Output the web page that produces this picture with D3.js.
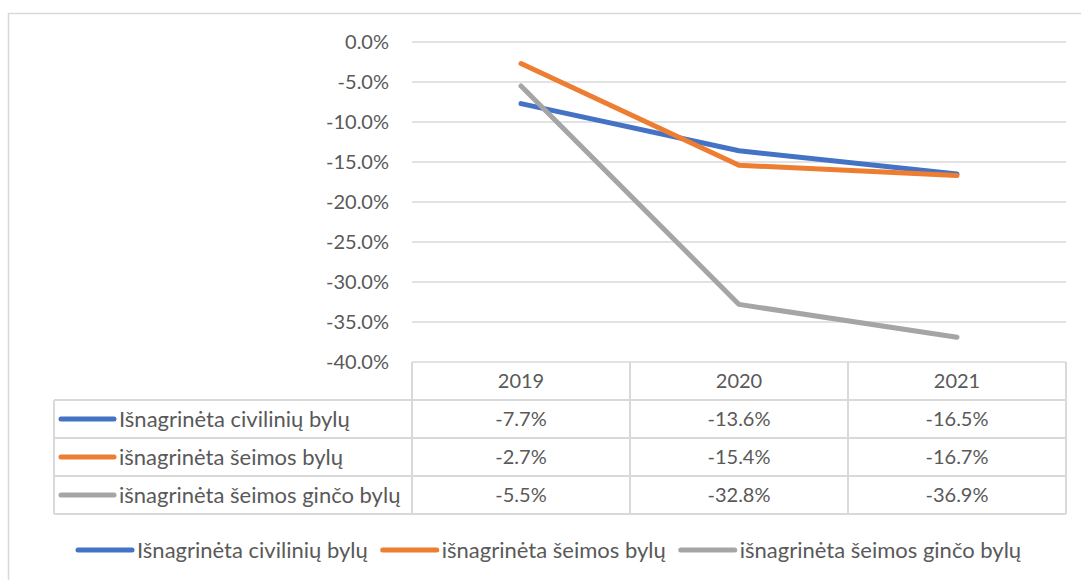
<!DOCTYPE html>
<html>
<head>
<meta charset="utf-8">
<script src="https://cdn.jsdelivr.net/npm/d3@7"></script>
<style>
  body { margin: 0; background: #fff; }
  svg { display: block; font-family: Lato, "Liberation Sans", sans-serif; }
</style>
</head>
<body>
<div class="graph"></div>
<script>
// Data
var years = ["2019", "2020", "2021"];
var seriesNames = ["Išnagrinėta civilinių bylų", "išnagrinėta šeimos bylų", "išnagrinėta šeimos ginčo bylų"];
var civil = [-7.7, -13.6, -16.5];
var family = [-2.7, -15.4, -16.7];
var familyDispute = [-5.5, -32.8, -36.9];
var yTicks = [0, -5, -10, -15, -20, -25, -30, -35, -40];

// Configuration
var colours = ["#4472C4", "#ED7D31", "#A5A5A5"];
var textColour = "#595959";
var gridColour = "#D9D9D9";
var width = 1081, height = 580;
var numSize = 20, labelSize = 22;

var pct = function(d) { return d3.format(".1f")(d).replace("\u2212", "-") + "%"; };

var series = [civil, family, familyDispute].map(function(v, i) {
    return {name: seriesNames[i], values: v, colour: colours[i]};
});

var plotLeft = 412, plotRight = 1066, plotTop = 42, plotBottom = 362;
var tableLeft = 54, rowH = 38;

var x = d3.scaleBand().domain(years).range([plotLeft, plotRight]);
var y = d3.scaleLinear().domain([-40, 0]).range([plotBottom, plotTop]);

var svg = d3.select(".graph").append("svg")
    .attr("width", width)
    .attr("height", height);

// outer chart border
svg.append("rect")
    .attr("x", 8.5).attr("y", 13.5)
    .attr("width", 1100).attr("height", 600)
    .attr("fill", "none")
    .attr("stroke", gridColour)
    .attr("stroke-width", 1.5);

// gridlines
svg.append("g").selectAll("line")
    .data(yTicks)
    .enter().append("line")
    .attr("x1", plotLeft).attr("x2", plotRight)
    .attr("y1", function(d) { return y(d); })
    .attr("y2", function(d) { return y(d); })
    .attr("stroke", gridColour)
    .attr("stroke-width", 1.5);

// y axis labels
svg.append("g").selectAll("text")
    .data(yTicks)
    .enter().append("text")
    .attr("x", 389)
    .attr("y", function(d) { return y(d); })
    .attr("dy", "0.35em")
    .attr("text-anchor", "end")
    .attr("fill", textColour)
    .style("font-size", numSize + "px")
    .text(pct);

// data table under the plot
var table = svg.append("g");
var rowTop = function(i) { return plotBottom + rowH * (i + 1); };

var colEdges = years.map(function(d) { return x(d); }).concat([plotRight]);
table.selectAll("line.col")
    .data(colEdges)
    .enter().append("line")
    .attr("class", "col")
    .attr("x1", function(d) { return d; }).attr("x2", function(d) { return d; })
    .attr("y1", plotBottom).attr("y2", rowTop(series.length))
    .attr("stroke", gridColour).attr("stroke-width", 2);

table.append("line")
    .attr("x1", tableLeft).attr("x2", tableLeft)
    .attr("y1", rowTop(0)).attr("y2", rowTop(series.length))
    .attr("stroke", gridColour).attr("stroke-width", 2);

table.selectAll("line.row")
    .data(d3.range(series.length + 1))
    .enter().append("line")
    .attr("class", "row")
    .attr("x1", tableLeft)
    .attr("x2", plotRight)
    .attr("y1", function(i) { return rowTop(i); })
    .attr("y2", function(i) { return rowTop(i); })
    .attr("stroke", gridColour).attr("stroke-width", 2);

table.selectAll("text.year")
    .data(years)
    .enter().append("text")
    .attr("class", "year")
    .attr("x", function(d) { return x(d) + x.bandwidth() / 2; })
    .attr("y", plotBottom + rowH / 2)
    .attr("dy", "0.35em")
    .attr("text-anchor", "middle")
    .attr("fill", textColour)
    .style("font-size", numSize + "px")
    .text(function(d) { return d; });

var rows = table.selectAll("g.srow")
    .data(series)
    .enter().append("g")
    .attr("class", "srow")
    .attr("transform", function(d, i) { return "translate(0," + (rowTop(i) + rowH / 2) + ")"; });

rows.append("line")
    .attr("x1", 61).attr("x2", 114)
    .attr("stroke", function(d) { return d.colour; })
    .attr("stroke-width", 5)
    .attr("stroke-linecap", "round");

rows.append("text")
    .attr("x", 119)
    .attr("dy", "0.35em")
    .attr("fill", textColour)
    .style("font-size", labelSize + "px")
    .text(function(d) { return d.name; });

rows.selectAll("text.val")
    .data(function(d) { return d.values; })
    .enter().append("text")
    .attr("class", "val")
    .attr("x", function(d, i) { return x(years[i]) + x.bandwidth() / 2; })
    .attr("dy", "0.35em")
    .attr("text-anchor", "middle")
    .attr("fill", textColour)
    .style("font-size", numSize + "px")
    .text(pct);

// series lines
var line = d3.line()
    .x(function(d, i) { return x(years[i]) + x.bandwidth() / 2; })
    .y(function(d) { return y(d); });

svg.append("g").selectAll("path")
    .data(series)
    .enter().append("path")
    .attr("d", function(d) { return line(d.values); })
    .attr("fill", "none")
    .attr("stroke", function(d) { return d.colour; })
    .attr("stroke-width", 5)
    .attr("stroke-linecap", "round")
    .attr("stroke-linejoin", "round");

// legend
var legend = svg.append("g").attr("transform", "translate(0,550)");
var lx = 78;
series.forEach(function(s) {
    var item = legend.append("g").attr("transform", "translate(" + lx + ",0)");
    item.append("line")
        .attr("x1", 0).attr("x2", 54)
        .attr("stroke", s.colour)
        .attr("stroke-width", 5)
        .attr("stroke-linecap", "round");
    var t = item.append("text")
        .attr("x", 59)
        .attr("dy", "0.35em")
        .attr("fill", textColour)
        .style("font-size", labelSize + "px")
        .text(s.name);
    lx += 59 + t.node().getComputedTextLength() + 15;
});
</script>
</body>
</html>
